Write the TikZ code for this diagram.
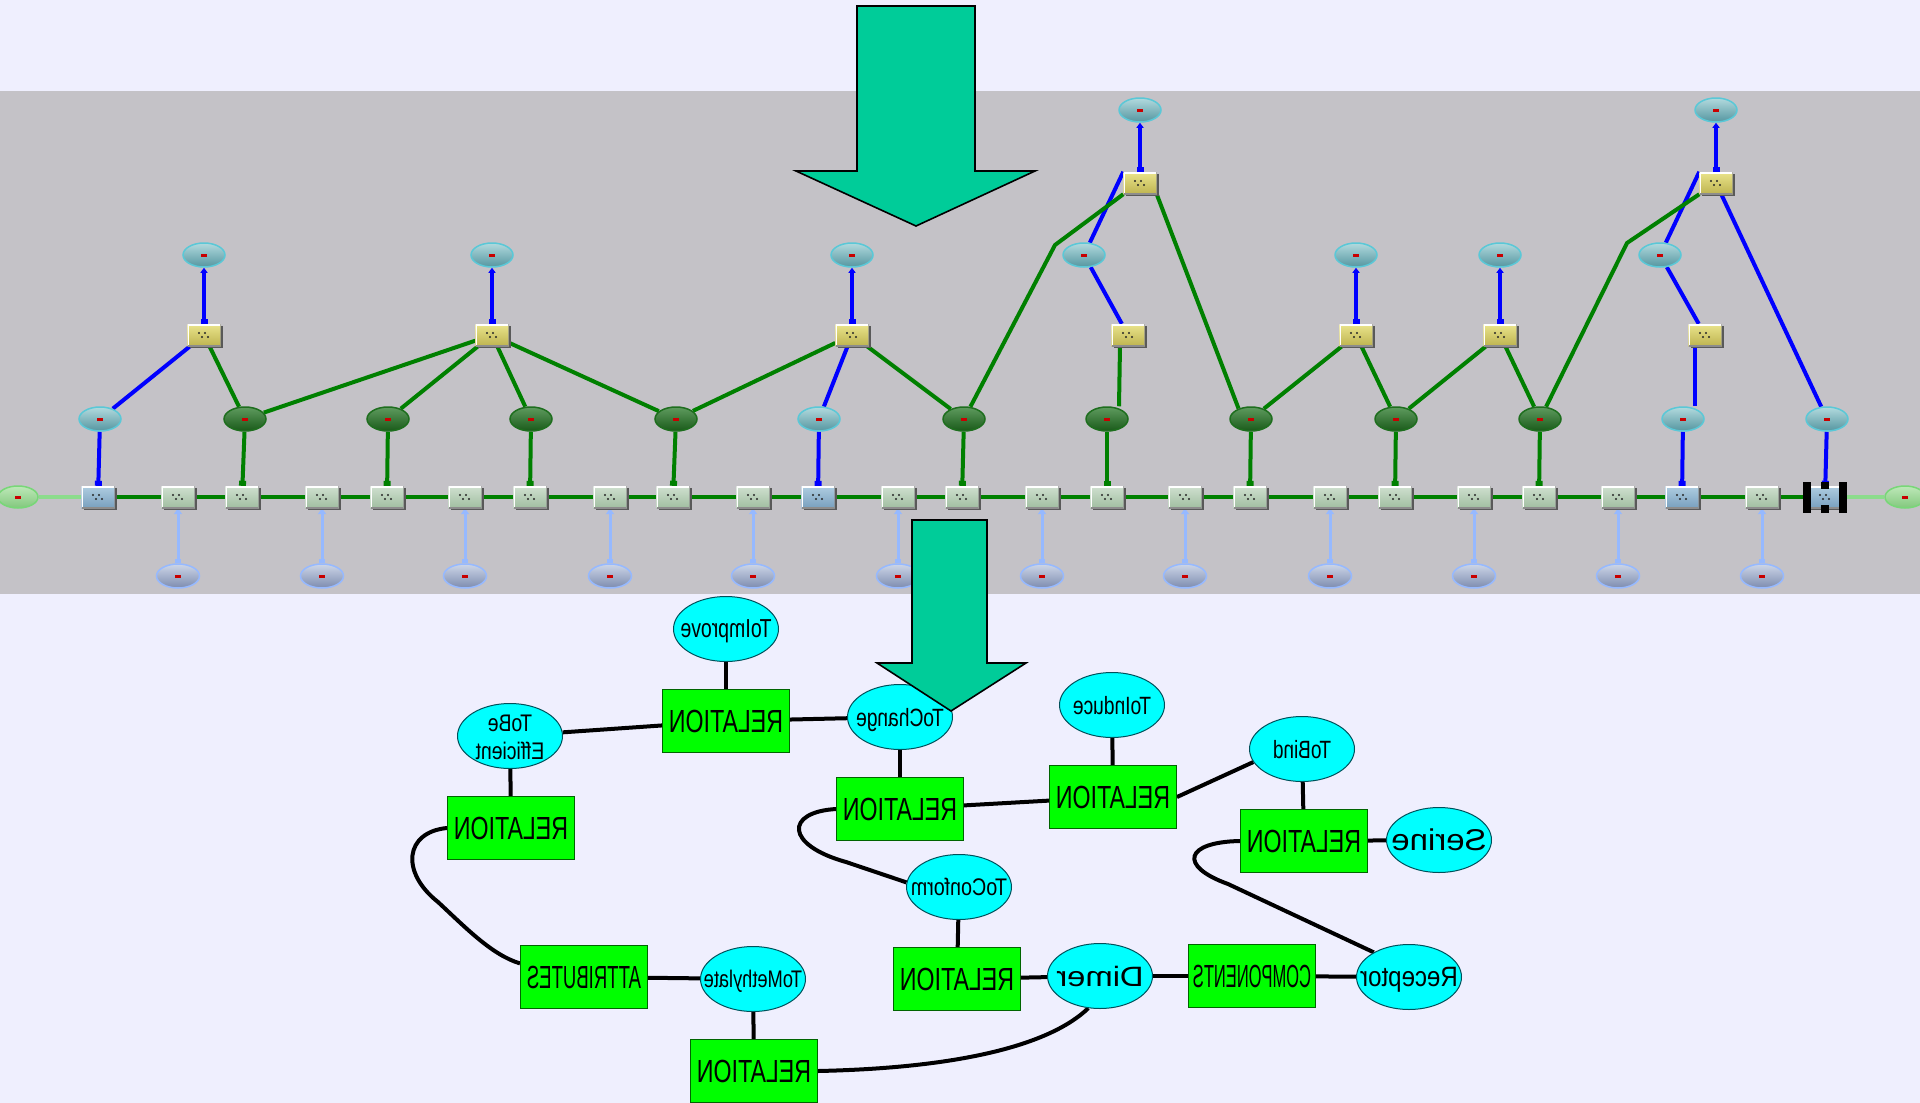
\documentclass[tikz,border=0pt]{standalone}
\usepackage{fontspec}
\setmainfont{Liberation Sans}
\usetikzlibrary{arrows.meta,shapes.geometric,calc,shadows}

\pgfdeclarelayer{back}
\pgfdeclarelayer{edges}
\pgfdeclarelayer{front}
\pgfsetlayers{back,edges,main,front}

\definecolor{pagebg}{RGB}{239,239,254}
\definecolor{bandgrey}{RGB}{196,194,199}
\definecolor{linkgreen}{RGB}{0,128,0}
\definecolor{linkblue}{RGB}{0,0,255}
\definecolor{paleblue}{RGB}{150,185,255}
\definecolor{palegreen}{RGB}{140,220,140}
\definecolor{boxgA}{RGB}{208,224,208}
\definecolor{boxgB}{RGB}{160,190,160}
\definecolor{boxbA}{RGB}{175,205,225}
\definecolor{boxbB}{RGB}{120,160,190}
\definecolor{boxyA}{RGB}{234,228,140}
\definecolor{boxyB}{RGB}{190,180,80}
\definecolor{tealA}{RGB}{178,218,222}
\definecolor{tealB}{RGB}{85,150,160}
\definecolor{tealedge}{RGB}{90,200,215}
\definecolor{gballA}{RGB}{95,155,95}
\definecolor{gballB}{RGB}{25,90,25}
\definecolor{gballedge}{RGB}{30,110,30}
\definecolor{greyA}{RGB}{205,214,232}
\definecolor{greyB}{RGB}{125,140,175}
\definecolor{greyedge}{RGB}{150,185,255}
\definecolor{endA}{RGB}{190,232,185}
\definecolor{endB}{RGB}{130,200,125}
\definecolor{endedge}{RGB}{120,215,120}
\definecolor{dotred}{RGB}{200,0,0}
\definecolor{arrowfill}{RGB}{0,204,153}
\definecolor{conceptfill}{RGB}{0,255,255}
\definecolor{conceptedge}{RGB}{0,80,90}
\definecolor{relfill}{RGB}{0,255,0}
\definecolor{reledge}{RGB}{0,100,0}

% mirrored, horizontally scaled label of zero size, centred on the node
\newcommand{\mirtext}[2]{\makebox[0pt]{\raisebox{-0.5\height}[0pt][0pt]{\scalebox{-#1}[1]{#2}}}}

\tikzset{
  tbox/.style={rectangle, minimum width=33pt, minimum height=22pt, inner sep=0pt,
    general shadow={shadow xshift=2pt, shadow yshift=-2pt, fill=black!65},
    path picture={
      \draw[white, line width=3pt] (path picture bounding box.south west) -- (path picture bounding box.north west) -- (path picture bounding box.north east);
      \draw[black!45, line width=2pt] (path picture bounding box.north east) -- (path picture bounding box.south east) -- (path picture bounding box.south west);
      \fill[black!85] ([xshift=-5pt,yshift=2pt]path picture bounding box.center) circle (1.1pt)
                      ([xshift=1pt,yshift=2pt]path picture bounding box.center) circle (1.1pt)
                      ([xshift=-2pt,yshift=-2pt]path picture bounding box.center) circle (1.1pt)
                      ([xshift=4pt,yshift=-2pt]path picture bounding box.center) circle (1.1pt);
    }},
  greenbox/.style={tbox, top color=boxgA, bottom color=boxgB},
  bluebox/.style={tbox, top color=boxbA, bottom color=boxbB},
  yellowbox/.style={tbox, top color=boxyA, bottom color=boxyB},
  tball/.style={ellipse, minimum width=42pt, minimum height=24pt, inner sep=0pt, line width=1.5pt,
    path picture={\fill[dotred] ([xshift=-3pt,yshift=-1.5pt]path picture bounding box.center) rectangle ++(6pt,3pt);}},
  tealball/.style={tball, draw=tealedge, top color=tealA, bottom color=tealB},
  greenball/.style={tball, draw=gballedge, top color=gballA, bottom color=gballB},
  greyball/.style={tball, minimum width=43pt, draw=greyedge, top color=greyA, bottom color=greyB},
  endball/.style={tball, minimum width=40pt, minimum height=22pt, draw=endedge, top color=endA, bottom color=endB},
  greenlink/.style={draw=linkgreen, line width=4pt},
  bluelink/.style={draw=linkblue, line width=4pt},
  endlink/.style={draw=palegreen, line width=3.5pt},
  palelink/.style={draw=paleblue, line width=3pt, {Square[length=4pt,width=6pt]}-{Triangle[length=6pt,width=8pt]}},
  boxend/.style={-{Square[length=5pt,width=7pt]}},
  uplink/.style={{Triangle[length=5pt,width=7pt]}-{Square[length=5pt,width=7pt]}},
  concept/.style={ellipse, draw=conceptedge, fill=conceptfill, line width=1pt, inner sep=0pt,
    minimum width=105pt, minimum height=65pt, font=\fontsize{25}{30}\selectfont},
  relation/.style={rectangle, draw=reledge, fill=relfill, line width=1pt, inner sep=0pt,
    minimum width=127pt, minimum height=63pt, font=\fontsize{32}{38}\selectfont},
  link/.style={draw=black, line width=4pt},
  bigarrow/.style={fill=arrowfill, draw=black, line width=1.6pt, line join=miter},
}

\begin{document}
\begin{tikzpicture}[x=1pt,y=-1pt]
\useasboundingbox (0,0) rectangle (1920,1103);
\begin{pgfonlayer}{back}
  \fill[pagebg] (0,0) rectangle (1920,1103);
  \fill[bandgrey] (0,91) rectangle (1920,594);
\end{pgfonlayer}

% ---------- network band ----------
\foreach \i/\x in {2/178,3/242,4/322,5/387,6/465,7/530,8/610,9/673,10/753,12/898,13/962,14/1042,15/1107,16/1185,17/1250,18/1330,19/1395,20/1474,21/1539,22/1618,24/1762}
  \node[greenbox] (b\i) at (\x,497) {};
\foreach \i/\x in {1/98,11/818,23/1682,25/1825}
  \node[bluebox] (b\i) at (\x,497) {};
\foreach \i/\x in {2/178,4/322,6/465,8/610,10/753,12/898,14/1042,16/1185,18/1330,20/1474,22/1618,24/1762}
  \node[greyball] (e\i) at (\x,576) {};
\foreach \i/\x in {1/100,11/819,23/1683,25/1827}
  \node[tealball] (m\i) at (\x,419) {};
\foreach \i/\x in {3/245,5/388,7/531,9/676,13/964,15/1107,17/1251,19/1396,21/1540}
  \node[greenball] (m\i) at (\x,419) {};
\foreach \i/\x in {1/204,2/492,3/852,4/1128,5/1356,6/1500,7/1705}
  \node[yellowbox] (y\i) at (\x,335) {};
\node[yellowbox] (u1) at (1140,183) {};
\node[yellowbox] (u2) at (1716,183) {};
\foreach \i/\x in {1/204,2/492,3/852,4/1084,5/1356,6/1500,7/1660}
  \node[tealball] (t\i) at (\x,255) {};
\node[tealball] (tt1) at (1140,110) {};
\node[tealball] (tt2) at (1716,110) {};
\node[endball] (lend) at (18,497) {};
\node[endball] (rend) at (1905,497) {};
\coordinate (k1) at (1055,245);
\coordinate (k2) at (1627,243);

% selection handles on the last box
\begin{pgfonlayer}{front}
  \fill[black] ($(b25.north west)+(-5,-4)$) rectangle ($(b25.south west)+(3,5)$);
  \fill[black] ($(b25.north east)+(-3,-4)$) rectangle ($(b25.south east)+(5,5)$);
  \fill[black] ($(b25.north)+(-4,-4)$) rectangle ($(b25.north)+(4,3)$);
  \fill[black] ($(b25.south)+(-4,-3)$) rectangle ($(b25.south)+(4,5)$);
\end{pgfonlayer}

\begin{pgfonlayer}{edges}
  \draw[greenlink] (b1) -- (b25);
  \draw[endlink] (lend) -- (b1);
  \draw[endlink] (b25) -- (rend);
  \foreach \i in {2,4,...,24} \draw[palelink] (e\i) -- (b\i);
  \foreach \i in {1,11,23,25} \draw[bluelink, boxend] (m\i) -- (b\i);
  \foreach \i in {3,5,7,9,13,15,17,19,21} \draw[greenlink, boxend] (m\i) -- (b\i);
  \foreach \a/\b in {t1/y1,t2/y2,t3/y3,t5/y5,t6/y6,tt1/u1,tt2/u2} \draw[bluelink, uplink] (\a) -- (\b);
  \draw[bluelink] (y1) -- (m1);
  \draw[bluelink] (y3) -- (m11);
  \draw[bluelink] (t4) -- (y4);
  \draw[bluelink] (t4) -- (u1.north west);
  \draw[bluelink] (t7) -- (u2.north west);
  \draw[bluelink] (t7) -- (y7);
  \draw[bluelink] ([xshift=-10pt]y7.south) -- ([xshift=12pt]m23.north);
  \draw[bluelink] (u2) -- (m25);
  \draw[greenlink] (y1) -- (m3);
  \draw[greenlink] (m3) -- (y2);
  \draw[greenlink] (m5) -- (y2);
  \draw[greenlink] (m7) -- (y2);
  \draw[greenlink] (y2) -- (m9);
  \draw[greenlink] (m9) -- (y3);
  \draw[greenlink] (y3) -- (m13);
  \draw[greenlink] (m13) -- (k1) -- (u1.south west);
  \draw[greenlink] ([xshift=-8pt]y4.south) -- ([xshift=12pt]m15.north);
  \draw[greenlink] (u1.south east) -- (m17.140);
  \draw[greenlink] (m17) -- (y5);
  \draw[greenlink] (y5) -- (m19);
  \draw[greenlink] (m19) -- (y6);
  \draw[greenlink] (y6) -- (m21);
  \draw[greenlink] (m21) -- (k2) -- (u2.south west);
\end{pgfonlayer}

% ---------- conceptual graph ----------
\node[concept, font=\fontsize{26}{31}\selectfont] (improve) at (726,629) {\mirtext{0.75}{ToImprove}};
\node[relation] (relA) at (726,721) {\mirtext{0.725}{RELATION}};
\node[concept, font=\fontsize{24}{28}\selectfont] (efficient) at (510,736)
  {\mirtext{0.81}{\begin{tabular}[b]{@{}c@{}}ToBe\\Efficient\end{tabular}}};
\node[relation] (relB) at (511,828) {\mirtext{0.725}{RELATION}};
\node[concept] (change) at (900,717) {\mirtext{0.77}{ToChange}};
\node[relation] (relC) at (900,809) {\mirtext{0.725}{RELATION}};
\node[concept] (induce) at (1112,705) {\mirtext{0.77}{ToInduce}};
\node[relation] (relD) at (1113,797) {\mirtext{0.725}{RELATION}};
\node[concept] (bind) at (1302,749) {\mirtext{0.76}{ToBind}};
\node[relation] (relE) at (1304,841) {\mirtext{0.725}{RELATION}};
\node[concept, font=\fontsize{30}{36}\selectfont] (serine) at (1439,840) {\mirtext{1.10}{Serine}};
\node[concept, font=\fontsize{24}{29}\selectfont] (conform) at (959,887) {\mirtext{0.82}{ToConform}};
\node[relation] (relF) at (957,979) {\mirtext{0.725}{RELATION}};
\node[concept, font=\fontsize{28}{34}\selectfont] (dimer) at (1100,976) {\mirtext{1.17}{Dimer}};
\node[relation] (components) at (1252,976) {\mirtext{0.515}{COMPONENTS}};
\node[concept, font=\fontsize{28}{34}\selectfont] (receptor) at (1409,977) {\mirtext{0.86}{Receptor}};
\node[relation] (attributes) at (584,977) {\mirtext{0.58}{ATTRIBUTES}};
\node[concept, font=\fontsize{24}{29}\selectfont] (methylate) at (753,979) {\mirtext{0.76}{ToMethylate}};
\node[relation] (relG) at (754,1071) {\mirtext{0.725}{RELATION}};

\begin{pgfonlayer}{edges}
  \draw[link] (improve) -- (relA);
  \draw[link] (relA) -- (efficient);
  \draw[link] (relA) -- (change);
  \draw[link] (efficient) -- (relB);
  \draw[link] (change) -- (relC);
  \draw[link] (relC) -- (relD);
  \draw[link] (induce) -- (relD);
  \draw[link] (relD.east) -- (bind.195);
  \draw[link] (bind) -- (relE);
  \draw[link] (relE) -- (serine);
  \draw[link] (relE.west) .. controls (1185,842) and (1178,866) .. (1228,884) -- (receptor.145);
  \draw[link] (relC.west) .. controls (785,812) and (785,845) .. (846,862) -- (conform.175);
  \draw[link] (relB.west) .. controls (405,832) and (400,872) .. (438,902)
                          .. controls (466,928) and (492,955) .. (attributes.168);
  \draw[link] (attributes) -- (methylate);
  \draw[link] (methylate) -- (relG);
  \draw[link] (relG.east) .. controls (960,1068) and (1050,1045) .. (dimer.250);
  \draw[link] (conform) -- (relF);
  \draw[link] (relF) -- (dimer);
  \draw[link] (dimer) -- (components);
  \draw[link] (components) -- (receptor);
\end{pgfonlayer}

% ---------- block arrows ----------
\begin{pgfonlayer}{front}
  \filldraw[bigarrow] (857,6) -- (975,6) -- (975,171) -- (1035,171) -- (916,226)
                      -- (796,171) -- (857,171) -- cycle;
  \filldraw[bigarrow] (912,520) -- (987,520) -- (987,663) -- (1026,663) -- (951,711)
                      -- (877,663) -- (912,663) -- cycle;
\end{pgfonlayer}
\end{tikzpicture}
\end{document}
